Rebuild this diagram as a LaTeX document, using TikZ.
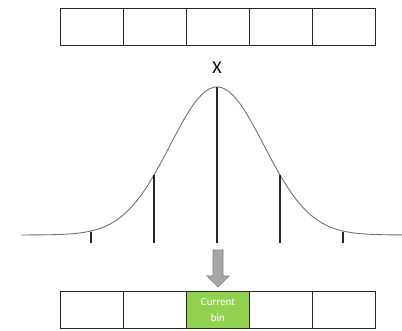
\documentclass[tikz,border=0pt]{standalone}
\usepackage{fontspec}
\setmainfont{Carlito}
\begin{document}
\begin{tikzpicture}[x=1pt,y=-1pt,
  cell/.style={draw=black!85,line width=0.9pt,minimum width=63pt,minimum height=37pt,inner sep=0pt,anchor=north west},
  vline/.style={draw=black!85,line width=1.6pt},
  curve/.style={draw=black!55,line width=0.9pt}]
\useasboundingbox (0,0) rectangle (402,331);
\fill[white] (0,0) rectangle (402,331);
% top row
\foreach \i in {0,...,4} {
  \node[cell] (t\i) at ({60+63*\i},8) {};
}
% bottom row
\foreach \i in {0,1,3,4} {
  \node[cell] (b\i) at ({60+63*\i},291) {};
}
\node[cell,fill={rgb,255:red,146;green,208;blue,80},text=white,font=\fontsize{11}{16}\selectfont,align=center] (b2) at (186,291) {Current\\bin};
% gaussian
\draw[curve] plot[domain=21:402,samples=250] (\x,{235-148*exp(-(((\x-217)/66.3)^2))});
% vertical lines
\coordinate (c0) at (217,87);
\draw[vline] (c0) -- (217,243);
\draw[vline] (154,175) -- (154,243);
\draw[vline] (280,175) -- (280,243);
\draw[vline,line width=1.3pt] (91,232) -- (91,243);
\draw[vline,line width=1.3pt] (343,232) -- (343,243);
% X label
\node[font=\fontsize{18}{18}\selectfont] (xl) at (217,68) {X};
% arrow
\draw[fill={rgb,255:red,166;green,166;blue,166},draw={rgb,255:red,128;green,128;blue,128},line width=0.7pt,line join=miter]
  (213,250) -- (223,250) -- (223,276) -- (229,276) -- (218,287) -- (207,276) -- (213,276) -- cycle;
\end{tikzpicture}
\end{document}
